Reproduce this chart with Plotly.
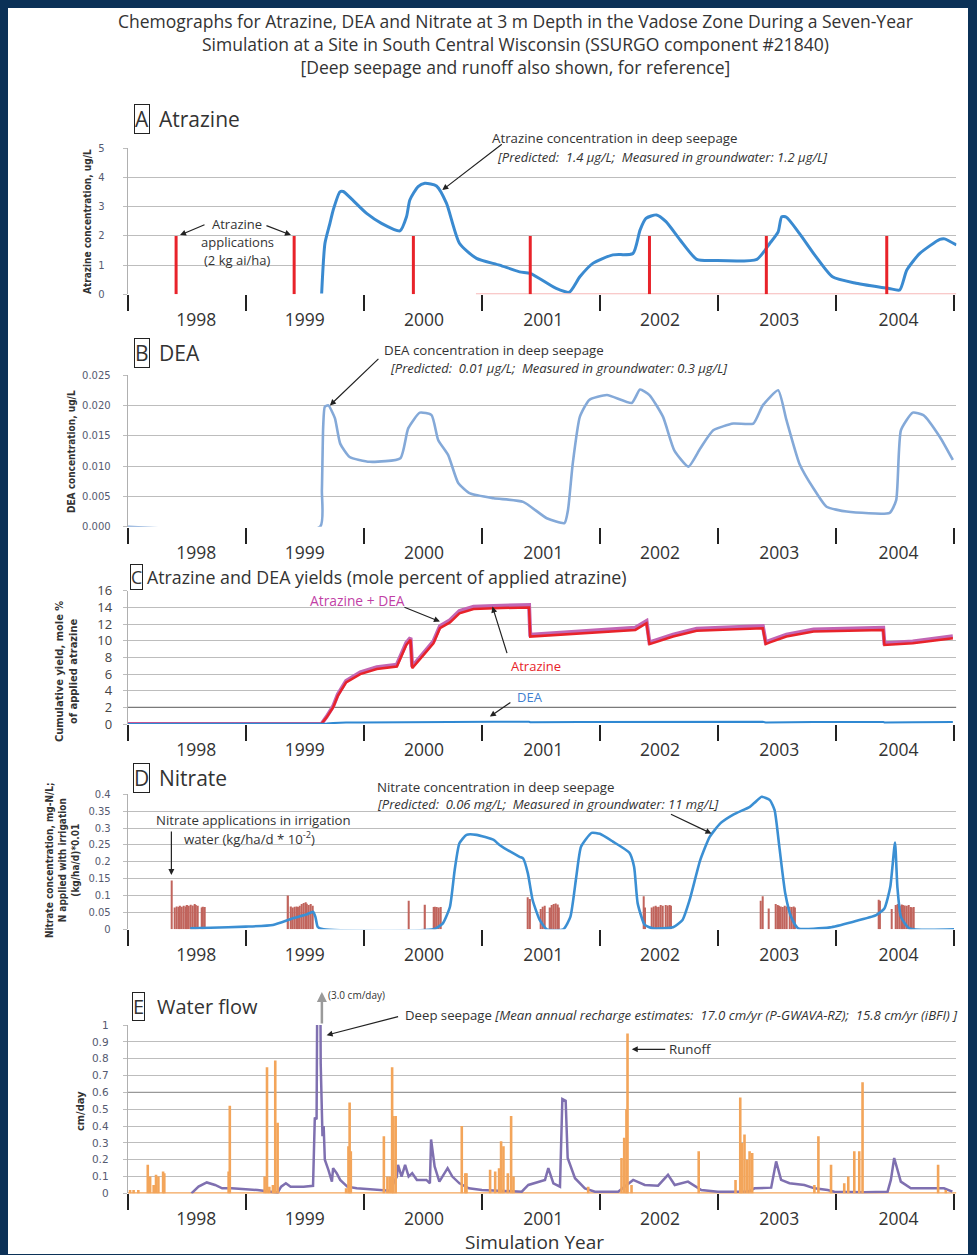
import plotly.graph_objects as go

# ---------------- DATA ----------------
years = [1998, 1999, 2000, 2001, 2002, 2003, 2004]
year_edges = [1998, 1999, 2000, 2001, 2002, 2003, 2004, 2005]

# A: atrazine concentration in deep seepage (ug/L)
atz_x = [1999.643, 1999.671, 1999.713, 1999.741, 1999.798, 1999.826, 1999.90, 2000.024, 2000.15, 2000.306,
         2000.362, 2000.39, 2000.46, 2000.517, 2000.616, 2000.70, 2000.81, 2000.955, 2001.15, 2001.32,
         2001.41, 2001.63, 2001.74, 2001.83, 2001.94, 2002.11, 2002.28, 2002.34, 2002.39, 2002.48,
         2002.56, 2002.68, 2002.82, 2002.96, 2003.33, 2003.44, 2003.51, 2003.54, 2003.58, 2003.69,
         2003.83, 2003.97, 2004.17, 2004.45, 2004.54, 2004.60, 2004.71, 2004.88, 2004.92, 2005.02]
atz_y = [0.03, 1.75, 2.43, 2.89, 3.51, 3.52, 3.25, 2.77, 2.43, 2.17,
         2.66, 3.23, 3.69, 3.80, 3.71, 3.12, 1.75, 1.23, 1.00, 0.77,
         0.72, 0.20, 0.07, 0.60, 1.06, 1.35, 1.40, 2.20, 2.60, 2.72,
         2.49, 1.86, 1.20, 1.16, 1.20, 1.75, 2.14, 2.66, 2.64, 2.09,
         1.29, 0.60, 0.38, 0.20, 0.15, 0.83, 1.40, 1.88, 1.90, 1.69]
# atrazine applications (2 kg ai/ha)
app_x = [1998.41, 1999.41, 2000.42, 2001.41, 2002.42, 2003.41, 2004.43]
app_y = [2, 2, 2, 2, 2, 2, 2]
app_zero_x = [2000.95, 2005.02]
app_zero_y = [0, 0]

# B: DEA concentration (ug/L)
dea_x = [1998.0, 1999.63, 1999.645, 1999.656, 1999.67, 1999.70, 1999.755, 1999.80, 1999.88, 2000.05,
         2000.31, 2000.376, 2000.475, 2000.574, 2000.63, 2000.715, 2000.80, 2000.90, 2001.10, 2001.35,
         2001.55, 2001.70, 2001.73, 2001.77, 2001.83, 2001.91, 2002.06, 2002.27, 2002.34, 2002.42,
         2002.535, 2002.63, 2002.75, 2002.85, 2002.96, 2003.13, 2003.30, 2003.38, 2003.51, 2003.58,
         2003.69, 2003.81, 2003.92, 2004.09, 2004.455, 2004.51, 2004.55, 2004.65, 2004.74, 2004.88,
         2004.99]
dea_y = [0, 0, 0.006, 0.0165, 0.0198, 0.0200, 0.0179, 0.0137, 0.0115, 0.0107,
         0.0113, 0.0162, 0.0188, 0.0184, 0.0143, 0.0118, 0.0072, 0.0055, 0.0047, 0.0041,
         0.0014, 0.0006, 0.0028, 0.0104, 0.0181, 0.0209, 0.0217, 0.0204, 0.0226, 0.0217,
         0.0181, 0.0126, 0.0099, 0.0129, 0.0159, 0.0170, 0.0170, 0.0200, 0.0225, 0.0176,
         0.0104, 0.0063, 0.0033, 0.0025, 0.0023, 0.0044, 0.0159, 0.0188, 0.0184, 0.0148,
         0.0110]

# C: cumulative yields (mole % of applied atrazine)
yld_x = [1998.0, 1999.64, 1999.685, 1999.74, 1999.78, 1999.85, 1999.97, 2000.11, 2000.28, 2000.36,
         2000.396, 2000.41, 2000.53, 2000.59, 2000.645, 2000.73, 2000.81, 2000.93, 2001.10, 2001.40,
         2001.41, 2001.83, 2002.30, 2002.395, 2002.42, 2002.62, 2002.82, 2003.38, 2003.405, 2003.44,
         2003.58, 2003.81, 2004.40, 2004.41, 2004.65, 2004.99]
yld_atz = [0, 0, 0.80, 2.0, 3.4, 5.0, 6.0, 6.6, 6.9, 9.5,
           10.1, 6.7, 8.7, 9.7, 11.5, 12.2, 13.3, 13.8, 13.9, 14.0,
           10.5, 10.9, 11.3, 12.1, 9.6, 10.5, 11.2, 11.5, 9.6, 9.8,
           10.5, 11.1, 11.3, 9.5, 9.7, 10.3]
yld_dea = [0, 0, 0.08, 0.12, 0.15, 0.18, 0.20, 0.22, 0.23, 0.24,
           0.25, 0.20, 0.22, 0.23, 0.25, 0.26, 0.27, 0.28, 0.28, 0.28,
           0.22, 0.24, 0.26, 0.27, 0.20, 0.23, 0.25, 0.27, 0.20, 0.21,
           0.23, 0.25, 0.26, 0.20, 0.22, 0.24]
c_ref_level = 2

# D: nitrate concentration in deep seepage (mg-N/L)
no3_x = [1998.53, 1998.70, 1999.0, 1999.23, 1999.40, 1999.52, 1999.57, 1999.59, 1999.61, 1999.66,
         2000.59, 2000.67, 2000.73, 2000.77, 2000.81, 2000.87, 2000.955, 2001.10, 2001.15, 2001.32,
         2001.35, 2001.39, 2001.43, 2001.49, 2001.55, 2001.69, 2001.75, 2001.80, 2001.84, 2001.93,
         2002.0, 2002.11, 2002.25, 2002.29, 2002.32, 2002.38, 2002.45, 2002.62, 2002.70, 2002.76,
         2002.85, 2002.93, 2003.02, 2003.13, 2003.27, 2003.31, 2003.37, 2003.44, 2003.48, 2003.52,
         2003.57, 2003.62, 2003.68, 2003.95, 2004.14, 2004.34, 2004.41, 2004.46, 2004.50, 2004.52,
         2004.55, 2004.62, 2005.0]
no3_y = [0.003, 0.005, 0.008, 0.013, 0.033, 0.045, 0.052, 0.037, 0.007, 0.0,
         0.0, 0.018, 0.067, 0.176, 0.255, 0.280, 0.280, 0.265, 0.250, 0.215,
         0.210, 0.166, 0.087, 0.028, 0.0, 0.0, 0.037, 0.156, 0.245, 0.286,
         0.283, 0.260, 0.227, 0.185, 0.077, 0.013, 0.003, 0.006, 0.028, 0.087,
         0.205, 0.274, 0.314, 0.340, 0.363, 0.375, 0.393, 0.383, 0.353, 0.245,
         0.107, 0.037, 0.003, 0.006, 0.022, 0.042, 0.062, 0.126, 0.257, 0.126,
         0.037, 0.003, 0.0]
# nitrate applications in irrigation water (kg/ha/d * 1e-2)
irr_x = [1998.37, 1998.40, 1998.415, 1998.43, 1998.445, 1998.46, 1998.475, 1998.49, 1998.505, 1998.52,
         1998.535, 1998.55, 1998.565, 1998.58, 1998.595, 1998.625, 1998.64, 1998.655,
         1999.36, 1999.385, 1999.40, 1999.415, 1999.43, 1999.445, 1999.46, 1999.475, 1999.49, 1999.505,
         1999.52, 1999.535, 1999.55, 1999.565,
         2000.38, 2000.52, 2000.59, 2000.605, 2000.62, 2000.635, 2000.65,
         2001.39, 2001.41, 2001.50, 2001.515, 2001.53, 2001.58, 2001.595, 2001.61, 2001.625, 2001.64, 2001.655,
         2002.37, 2002.385, 2002.44, 2002.455, 2002.47, 2002.485, 2002.50, 2002.515, 2002.53, 2002.56,
         2002.575, 2002.59, 2002.605,
         2003.365, 2003.38, 2003.43, 2003.49, 2003.505, 2003.52, 2003.535, 2003.55, 2003.565, 2003.58,
         2003.61, 2003.625, 2003.64, 2003.655,
         2004.36, 2004.375, 2004.47, 2004.51, 2004.525, 2004.54, 2004.555, 2004.57, 2004.585, 2004.60,
         2004.615, 2004.63, 2004.645, 2004.66]
irr_y = [0.145, 0.065, 0.068, 0.066, 0.070, 0.067, 0.070, 0.068, 0.072, 0.070,
         0.073, 0.071, 0.075, 0.072, 0.070, 0.065, 0.067, 0.066,
         0.100, 0.068, 0.065, 0.067, 0.068, 0.066, 0.070, 0.075, 0.078, 0.080,
         0.076, 0.072, 0.075, 0.070,
         0.085, 0.073, 0.066, 0.067, 0.066, 0.065, 0.066,
         0.095, 0.090, 0.060, 0.067, 0.070, 0.065, 0.072, 0.075, 0.077, 0.074, 0.065,
         0.098, 0.065, 0.065, 0.068, 0.070, 0.066, 0.067, 0.072, 0.070, 0.072,
         0.071, 0.072, 0.070,
         0.085, 0.098, 0.062, 0.075, 0.072, 0.070, 0.068, 0.066, 0.070, 0.068,
         0.067, 0.066, 0.068, 0.065,
         0.088, 0.085, 0.060, 0.072, 0.075, 0.070, 0.074, 0.072, 0.071, 0.070,
         0.072, 0.066, 0.065, 0.066]

# E: water flow (cm/day)
seep_x = [1998.54, 1998.60, 1998.67, 1998.74, 1998.80, 1998.88, 1999.0, 1999.10, 1999.21, 1999.27,
          1999.30, 1999.34, 1999.38, 1999.49, 1999.57, 1999.585, 1999.60, 1999.62, 1999.635, 1999.65,
          1999.66, 1999.67, 1999.70, 1999.73, 1999.74, 1999.77, 1999.80, 1999.86, 1999.94, 2000.08,
          2000.22, 2000.28, 2000.29, 2000.32, 2000.35, 2000.38, 2000.41, 2000.45, 2000.53, 2000.56,
          2000.57, 2000.60, 2000.64, 2000.71, 2000.75, 2000.81, 2000.89, 2001.0, 2001.338, 2001.394,
          2001.535, 2001.563, 2001.606, 2001.662, 2001.682, 2001.710, 2001.727, 2001.789, 2001.873, 2001.958,
          2002.155, 2002.282, 2002.380, 2002.493, 2002.577, 2002.634, 2002.746, 2002.859, 2003.0, 2003.254,
          2003.310, 2003.451, 2003.493, 2003.535, 2003.606, 2003.732, 2003.817, 2003.930, 2003.986, 2004.239,
          2004.437, 2004.465, 2004.493, 2004.549, 2004.634, 2004.803, 2004.915, 2004.986]
seep_y = [0.0, 0.04, 0.065, 0.05, 0.03, 0.03, 0.024, 0.02, 0.01, 0.005,
          0.04, 0.06, 0.04, 0.04, 0.045, 0.45, 0.44, 3.0, 0.77, 0.34,
          0.40, 0.20, 0.14, 0.07, 0.15, 0.12, 0.08, 0.04, 0.03, 0.024,
          0.016, 0.10, 0.17, 0.10, 0.17, 0.10, 0.12, 0.08, 0.08, 0.06,
          0.32, 0.16, 0.07, 0.15, 0.10, 0.06, 0.03, 0.02, 0.01, 0.05,
          0.08, 0.15, 0.06, 0.04, 0.56, 0.55, 0.21, 0.09, 0.03, 0.01,
          0.01, 0.08, 0.05, 0.046, 0.11, 0.05, 0.07, 0.02, 0.01, 0.01,
          0.03, 0.034, 0.19, 0.08, 0.06, 0.05, 0.03, 0.02, 0.01, 0.006,
          0.01, 0.08, 0.21, 0.07, 0.03, 0.03, 0.03, 0.01]
run_x = [1998.02, 1998.05, 1998.09, 1998.17, 1998.19, 1998.22, 1998.24, 1998.26, 1998.30, 1998.31,
         1998.855, 1998.865, 1999.16, 1999.18, 1999.20, 1999.23, 1999.25, 1999.27, 1999.85, 1999.87,
         1999.88, 1999.89, 2000.17, 2000.20, 2000.22, 2000.24, 2000.25, 2000.27, 2000.83, 2000.86,
         2000.87, 2001.070, 2001.113, 2001.146, 2001.163, 2001.183, 2001.220, 2001.248, 2001.268, 2001.901,
         2002.183, 2002.206, 2002.225, 2002.234, 2002.268, 2002.837, 2003.149, 2003.189, 2003.203, 2003.225,
         2003.248, 2003.268, 2003.290, 2003.817, 2003.851, 2003.958, 2004.070, 2004.104, 2004.155, 2004.197,
         2004.225, 2004.865, 2004.930]
run_y = [0.02, 0.02, 0.02, 0.17, 0.10, 0.05, 0.11, 0.10, 0.13, 0.12,
         0.13, 0.52, 0.10, 0.75, 0.04, 0.05, 0.79, 0.42, 0.03, 0.28,
         0.54, 0.25, 0.34, 0.10, 0.10, 0.75, 0.46, 0.46, 0.40, 0.12,
         0.12, 0.14, 0.13, 0.15, 0.31, 0.28, 0.12, 0.46, 0.10, 0.04,
         0.21, 0.33, 0.50, 0.95, 0.05, 0.25, 0.08, 0.57, 0.30, 0.35,
         0.20, 0.25, 0.24, 0.05, 0.34, 0.17, 0.06, 0.10, 0.25, 0.25,
         0.66, 0.17, 0.02]
run_zero_x = [1998.0, 2005.02]
run_zero_y = [0, 0]
e_ref_level = 0.6

for a, b in [(atz_x, atz_y), (dea_x, dea_y), (yld_x, yld_atz), (yld_x, yld_dea), (no3_x, no3_y),
             (irr_x, irr_y), (seep_x, seep_y), (run_x, run_y), (app_x, app_y)]:
    assert len(a) == len(b), (len(a), len(b))

yld_tot = [a + d for a, d in zip(yld_atz, yld_dea)]

# ---------------- LAYOUT HELPERS ----------------
OFF = 8
W, H = 977, 1255
X0_PX, X1_PX = 127.7, 956.4
XR = [1998.0, 2005.02]
NAVY = "#0b3157"
SANS = "Open Sans, Lato, sans-serif"
COND = "Liberation Sans Narrow, DejaVu Sans Condensed, sans-serif"
TICKF = "DejaVu Sans, Verdana, sans-serif"
year_label_pos = [1998.58, 1999.5, 2000.51, 2001.52, 2002.51, 2003.52, 2004.53]
# vertical calibration of the page as it is photographed
VA, VB = 9.1, 0.9856


def fx(p):
    return (p - OFF) / W


def fy(p):
    q = (p - VA) / VB
    return 1 - (q - OFF) / H


def spikes(xs, ys):
    X, Y = [], []
    for x, y in zip(xs, ys):
        X += [x, x, None]
        Y += [0, y, None]
    return X, Y


fig = go.Figure()

# A
fig.add_trace(go.Scatter(x=atz_x, y=atz_y, mode="lines", line=dict(color="#3a8ad0", width=3, shape="spline", smoothing=0.6),
                         xaxis="x", yaxis="y", hoverinfo="skip"))
fig.add_trace(go.Scatter(x=app_zero_x, y=app_zero_y, mode="lines", line=dict(color="#f7b9b9", width=2),
                         xaxis="x", yaxis="y", hoverinfo="skip"))
ax_, ay_ = spikes(app_x, app_y)
fig.add_trace(go.Scatter(x=ax_, y=ay_, mode="lines", line=dict(color="#e8232a", width=3),
                         xaxis="x", yaxis="y", hoverinfo="skip"))
# B
fig.add_trace(go.Scatter(x=dea_x, y=dea_y, mode="lines", line=dict(color="#84a9d8", width=2.6, shape="spline", smoothing=0.5),
                         xaxis="x2", yaxis="y2", hoverinfo="skip"))
# C
fig.add_trace(go.Scatter(x=XR, y=[c_ref_level, c_ref_level], mode="lines", line=dict(color="#7a7a7a", width=1.2),
                         xaxis="x3", yaxis="y3", hoverinfo="skip"))
fig.add_trace(go.Scatter(x=yld_x, y=yld_tot, mode="lines", line=dict(color="#c266b4", width=4),
                         xaxis="x3", yaxis="y3", hoverinfo="skip"))
fig.add_trace(go.Scatter(x=yld_x, y=yld_atz, mode="lines", line=dict(color="#e8232a", width=2.5),
                         xaxis="x3", yaxis="y3", hoverinfo="skip"))
fig.add_trace(go.Scatter(x=yld_x, y=yld_dea, mode="lines", line=dict(color="#2f88d2", width=2),
                         xaxis="x3", yaxis="y3", hoverinfo="skip"))
# D
fig.add_trace(go.Bar(x=irr_x, y=irr_y, width=0.011, marker=dict(color="#c1645c", line=dict(width=0)),
                     xaxis="x4", yaxis="y4", hoverinfo="skip"))
fig.add_trace(go.Scatter(x=no3_x, y=no3_y, mode="lines", line=dict(color="#3b8fd3", width=2.6, shape="spline", smoothing=0.5),
                         xaxis="x4", yaxis="y4", hoverinfo="skip"))
# E
fig.add_trace(go.Scatter(x=XR, y=[e_ref_level, e_ref_level], mode="lines", line=dict(color="#999999", width=1.4),
                         xaxis="x5", yaxis="y5", hoverinfo="skip"))
fig.add_trace(go.Scatter(x=run_zero_x, y=run_zero_y, mode="lines", line=dict(color="#f3a55a", width=2.5),
                         xaxis="x5", yaxis="y5", hoverinfo="skip"))
fig.add_trace(go.Scatter(x=seep_x, y=seep_y, mode="lines", line=dict(color="#7f70b0", width=2.5),
                         xaxis="x5", yaxis="y5", hoverinfo="skip"))
rx_, ry_ = spikes(run_x, run_y)
fig.add_trace(go.Scatter(x=rx_, y=ry_, mode="lines", line=dict(color="#f3a55a", width=2.6),
                         xaxis="x5", yaxis="y5", hoverinfo="skip"))

panel_px = {1: (148.3, 294.3), 2: (375.0, 526.7), 3: (590.7, 724.0), 4: (794.3, 929.3), 5: (1025.0, 1193.3)}
yspec = {
    1: dict(range=[0, 5], dtick=1, tickformat="d", standoff=16, font=dict(family=TICKF, size=10, color="#555a70")),
    2: dict(range=[0, 0.025], dtick=0.005, tickformat=".3f", standoff=10, font=dict(family=TICKF, size=10, color="#555a70")),
    3: dict(range=[0, 16], dtick=2, tickformat="d", standoff=8, font=dict(family=SANS, size=13, color="#444")),
    4: dict(range=[0, 0.4], dtick=0.05, tickformat="", standoff=10, font=dict(family=TICKF, size=10, color="#555a70")),
    5: dict(range=[0, 1], dtick=0.1, tickformat="", standoff=12, font=dict(family=TICKF, size=10.5, color="#555a70")),
}

layout = dict(
    width=W, height=H, margin=dict(l=0, r=0, t=0, b=0),
    paper_bgcolor=NAVY, plot_bgcolor="rgba(0,0,0,0)", showlegend=False, barmode="overlay",
)
for i in range(1, 6):
    s = "" if i == 1 else str(i)
    top, bot = panel_px[i]
    sp = yspec[i]
    layout["xaxis" + s] = dict(
        domain=[fx(X0_PX), fx(X1_PX)], range=XR, anchor="y" + s, showgrid=False, zeroline=False,
        showline=False, tickmode="array", tickvals=year_label_pos, ticktext=[str(y) for y in years],
        ticks="outside", ticklen=10, tickcolor="rgba(0,0,0,0)",
        tickfont=dict(family=SANS, size=17.5, color="#333"),
        minor=dict(tickmode="array", tickvals=year_edges, ticks="outside", ticklen=16, tickwidth=1.6,
                   tickcolor="#222", showgrid=False),
        fixedrange=True,
    )
    layout["yaxis" + s] = dict(
        domain=[fy(bot), fy(top)], range=sp["range"], anchor="x" + s, dtick=sp["dtick"], tick0=0,
        tickformat=sp["tickformat"], showgrid=True, gridcolor="#bdbdbd", gridwidth=1.4, zeroline=False,
        showline=True, linecolor="#b0b0b0", linewidth=1, ticks="outside", ticklen=4, tickcolor="#bdbdbd",
        tickfont=sp["font"], ticklabelstandoff=sp["standoff"], fixedrange=True,
    )
fig.update_layout(**layout)

# white page inside the navy frame (right and bottom edges of the frame)
fig.add_shape(type="rect", xref="paper", yref="paper", x0=-0.02, x1=fx(968), y0=0, y1=1.03,
              fillcolor="white", line=dict(width=0), layer="below")

ann = []


def text(px, py, t, size, color="#333", family=SANS, xanchor="left", **kw):
    ann.append(dict(x=fx(px), y=fy(py), xref="paper", yref="paper", text=t, showarrow=False,
                    xanchor=xanchor, yanchor="middle", font=dict(family=family, size=size, color=color), **kw))


def arrow(xa, ya, hx, hy, axp, ayp, color="#222", width=1.2, head=2, size=1.0):
    ann.append(dict(x=hx, y=hy, xref=xa, yref=ya, text="", showarrow=True, ax=axp, ay=ayp,
                    arrowhead=head, arrowsize=size, arrowwidth=width, arrowcolor=color))


# main title
text(515, 44, "Chemographs for Atrazine, DEA and Nitrate at 3 m Depth in the Vadose Zone During a Seven-Year<br>"
     "Simulation at a Site in South Central Wisconsin (SSURGO component #21840)<br>"
     "[Deep seepage and runoff also shown, for reference]", 17.5, "#333", SANS, xanchor="center")

# panel labels
for (bx, by, letter, lx, label, sz) in [
    (141.5, 119, "A", 157, "Atrazine", 21),
    (141.5, 353, "B", 157, "DEA", 21),
    (136, 576.5, "C", 145, "Atrazine and DEA yields (mole percent of applied atrazine)", 17.8),
    (141.5, 778, "D", 157, "Nitrate", 21),
    (138.5, 1006.5, "E", 155, "Water flow", 20),
]:
    ann.append(dict(x=fx(bx), y=fy(by), xref="paper", yref="paper", text=letter, showarrow=False,
                    xanchor="center", yanchor="middle", bordercolor="#222", borderwidth=1, borderpad=0,
                    font=dict(family=SANS, size=sz, color="#333")))
    text(lx, by, label, sz, "#333")


def ytitle(px, py, t, size):
    ann.append(dict(x=fx(px), y=fy(py), xref="paper", yref="paper", text=t, showarrow=False, textangle=-90,
                    xanchor="center", yanchor="middle",
                    font=dict(family=COND, size=size, color="#333", weight="bold")))


ytitle(87, 222, "Atrazine concentration, ug/L", 10)
ytitle(71, 452, "DEA concentration, ug/L", 10)
ytitle(66, 672, "Cumulative yield, mole %<br>of applied atrazine", 11)
ytitle(62, 860, "Nitrate concentration, mg-N/L;<br>N applied with irrigation<br>(kg/ha/d)*0.01", 10)
ytitle(80, 1111, "cm/day", 11)

# x-axis title
text(534, 1242, "Simulation Year", 19, "#333", SANS, xanchor="center")

# Panel A annotations
text(490, 138, "Atrazine concentration in deep seepage", 13.3)
text(495, 157, "<i>[Predicted:  1.4 µg/L;  Measured in groundwater: 1.2 µg/L]</i>", 13)
arrow("x", "y", 2000.665, 3.57, 61, -47)
text(237, 224, "Atrazine", 13, xanchor="center")
text(237, 242, "applications", 13, xanchor="center")
text(237, 260, "(2 kg ai/ha)", 13, xanchor="center")
arrow("x", "y", 1998.443, 2.03, 26, -11)
arrow("x", "y", 1999.383, 2.03, -26, -10)

# Panel B annotations
text(382, 350, "DEA concentration in deep seepage", 13.3)
text(388, 368, "<i>[Predicted:  0.01 µg/L;  Measured in groundwater: 0.3 µg/L]</i>", 13)
arrow("x2", "y2", 1999.713, 0.0200, 50, -48)

# Panel C annotations
text(308, 600, "Atrazine + DEA", 13.8, "#c13fa6")
arrow("x3", "y3", 2000.645, 12.3, -37, -15)
text(509, 666, "Atrazine", 13, "#e8232a")
arrow("x3", "y3", 2001.09, 14.1, 15, 48)
text(515, 697, "DEA", 13, "#3f7fd0")
arrow("x3", "y3", 2001.068, 0.9, 22, -15)

# Panel D annotations
text(375, 787, "Nitrate concentration in deep seepage", 13.3)
text(375, 804, "<i>[Predicted:  0.06 mg/L;  Measured in groundwater: 11 mg/L]</i>", 13)
arrow("x4", "y4", 2002.945, 0.284, -42, -20)
text(154, 820, "Nitrate applications in irrigation", 13.2)
text(182, 838, "water (kg/ha/d * 10<sup>-2</sup>)", 13.2)
arrow("x4", "y4", 1998.37, 0.161, 0, -45)

# Panel E annotations
arrow("x5", "paper", 1999.645, fy(992), 0, 33, color="#9a9a9a", width=2.5, head=2, size=0.8)
text(326, 995, "(3.0 cm/day)", 10)
text(403, 1015, "Deep seepage <i>[Mean annual recharge estimates:  17.0 cm/yr (P-GWAVA-RZ);  15.8 cm/yr (iBFI) ]</i>", 13.2)
arrow("x5", "y5", 1999.685, 0.94, 73, -19)
text(667, 1049, "Runoff", 13.3)
arrow("x5", "y5", 2002.27, 0.856, 35, 0)

fig.update_layout(annotations=ann)
fig.write_html("out.html", post_script="document.body.style.background='" + NAVY + "';")
